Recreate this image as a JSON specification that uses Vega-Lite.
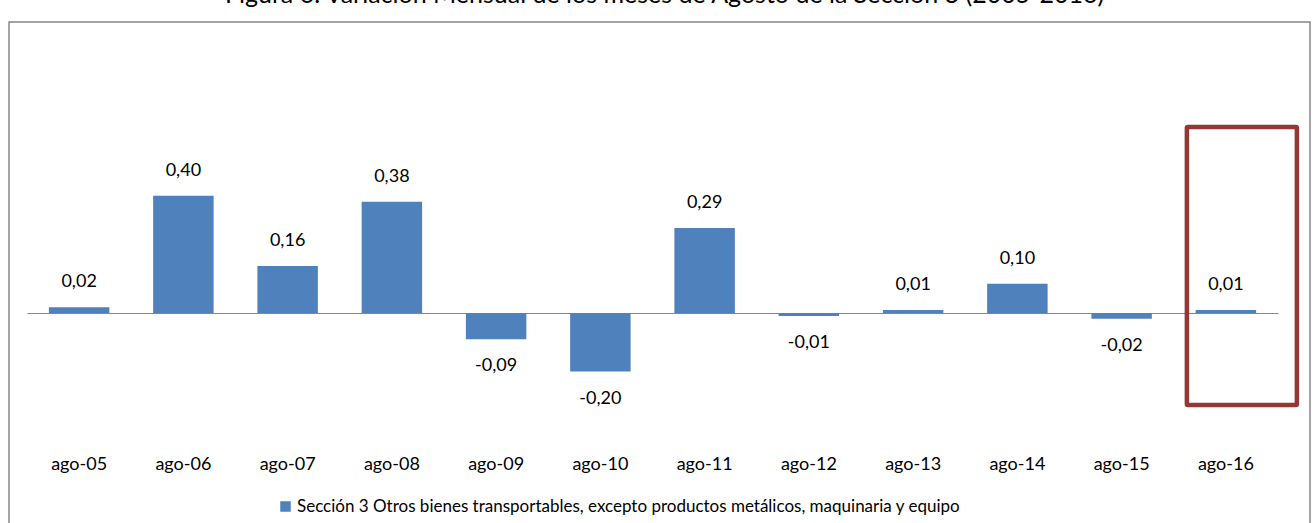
{
  "$schema": "https://vega.github.io/schema/vega-lite/v6.json",
  "autosize": {"type": "none"},
  "width": 1301,
  "height": 510,
  "padding": {"left": 9, "top": 22, "right": 4, "bottom": 0},
  "background": "white",
  "title": {
    "text": "Figura 6. Variación Mensual de los meses de Agosto de la Sección 3  (2005-2016)",
    "font": "Lato",
    "fontSize": 25,
    "fontWeight": "normal",
    "color": "black",
    "anchor": "middle",
    "frame": "group",
    "baseline": "alphabetic",
    "offset": 18,
    "dy": 24,
    "dx": 5
  },
  "config": {
    "locale": {
      "number": {"decimal": ",", "thousands": ".", "grouping": [3], "currency": ["", " €"], "minus": "-"}
    },
    "view": {"stroke": "#868686", "strokeWidth": 1.5},
    "font": "Lato"
  },
  "data": {
    "values": [
      {"mes": "ago-05", "v": 0.02},
      {"mes": "ago-06", "v": 0.40},
      {"mes": "ago-07", "v": 0.16},
      {"mes": "ago-08", "v": 0.38},
      {"mes": "ago-09", "v": -0.09},
      {"mes": "ago-10", "v": -0.20},
      {"mes": "ago-11", "v": 0.29},
      {"mes": "ago-12", "v": -0.01},
      {"mes": "ago-13", "v": 0.01},
      {"mes": "ago-14", "v": 0.10},
      {"mes": "ago-15", "v": -0.02},
      {"mes": "ago-16", "v": 0.01}
    ]
  },
  "encoding": {
    "x": {
      "field": "mes",
      "type": "nominal",
      "sort": null,
      "scale": {"range": [18, 1269], "paddingInner": 0.42, "paddingOuter": 0.21},
      "axis": {
        "title": null,
        "orient": "bottom",
        "offset": -219,
        "domainColor": "#868686",
        "domainWidth": 1.2,
        "ticks": false,
        "labelAngle": 0,
        "labelFont": "Lato",
        "labelFontSize": 18,
        "labelColor": "black",
        "labelPadding": 151,
        "labelBaseline": "middle"
      }
    }
  },
  "layer": [
    {
      "mark": {"type": "bar"},
      "encoding": {
        "y": {
          "field": "v",
          "type": "quantitative",
          "scale": {"domain": [-0.7, 0.9], "range": [496.1, 27.3], "nice": false, "zero": false},
          "axis": null
        },
        "color": {
          "datum": "Sección 3 Otros bienes transportables, excepto productos metálicos, maquinaria y equipo",
          "type": "nominal",
          "scale": {"range": ["#4F81BD"]},
          "legend": {
            "title": null,
            "orient": "none",
            "legendX": 268,
            "legendY": 476,
            "symbolType": "square",
            "symbolSize": 110,
            "symbolStrokeWidth": 0,
            "labelFont": "Lato",
            "labelFontSize": 17,
            "labelLimit": 0,
            "labelColor": "black",
            "labelOffset": 3
          }
        }
      }
    },
    {
      "transform": [{"filter": "datum.v >= 0"}],
      "mark": {"type": "text", "baseline": "middle", "dy": -25, "font": "Lato", "fontSize": 18, "color": "black"},
      "encoding": {
        "y": {"field": "v", "type": "quantitative"},
        "text": {"field": "v", "type": "quantitative", "format": ".2f"}
      }
    },
    {
      "transform": [{"filter": "datum.v < 0"}],
      "mark": {"type": "text", "baseline": "middle", "dy": 27, "font": "Lato", "fontSize": 18, "color": "black"},
      "encoding": {
        "y": {"field": "v", "type": "quantitative"},
        "text": {"field": "v", "type": "quantitative", "format": ".2f"}
      }
    },
    {
      "transform": [{"filter": "datum.mes == 'ago-16'"}],
      "mark": {"type": "rect", "fill": null, "fillOpacity": 0, "stroke": "#953735", "strokeWidth": 4.5, "width": 110, "xOffset": 16, "cornerRadius": 1},
      "encoding": {
        "y": {"datum": 0.635, "type": "quantitative"},
        "y2": {"datum": -0.314}
      }
    }
  ]
}
